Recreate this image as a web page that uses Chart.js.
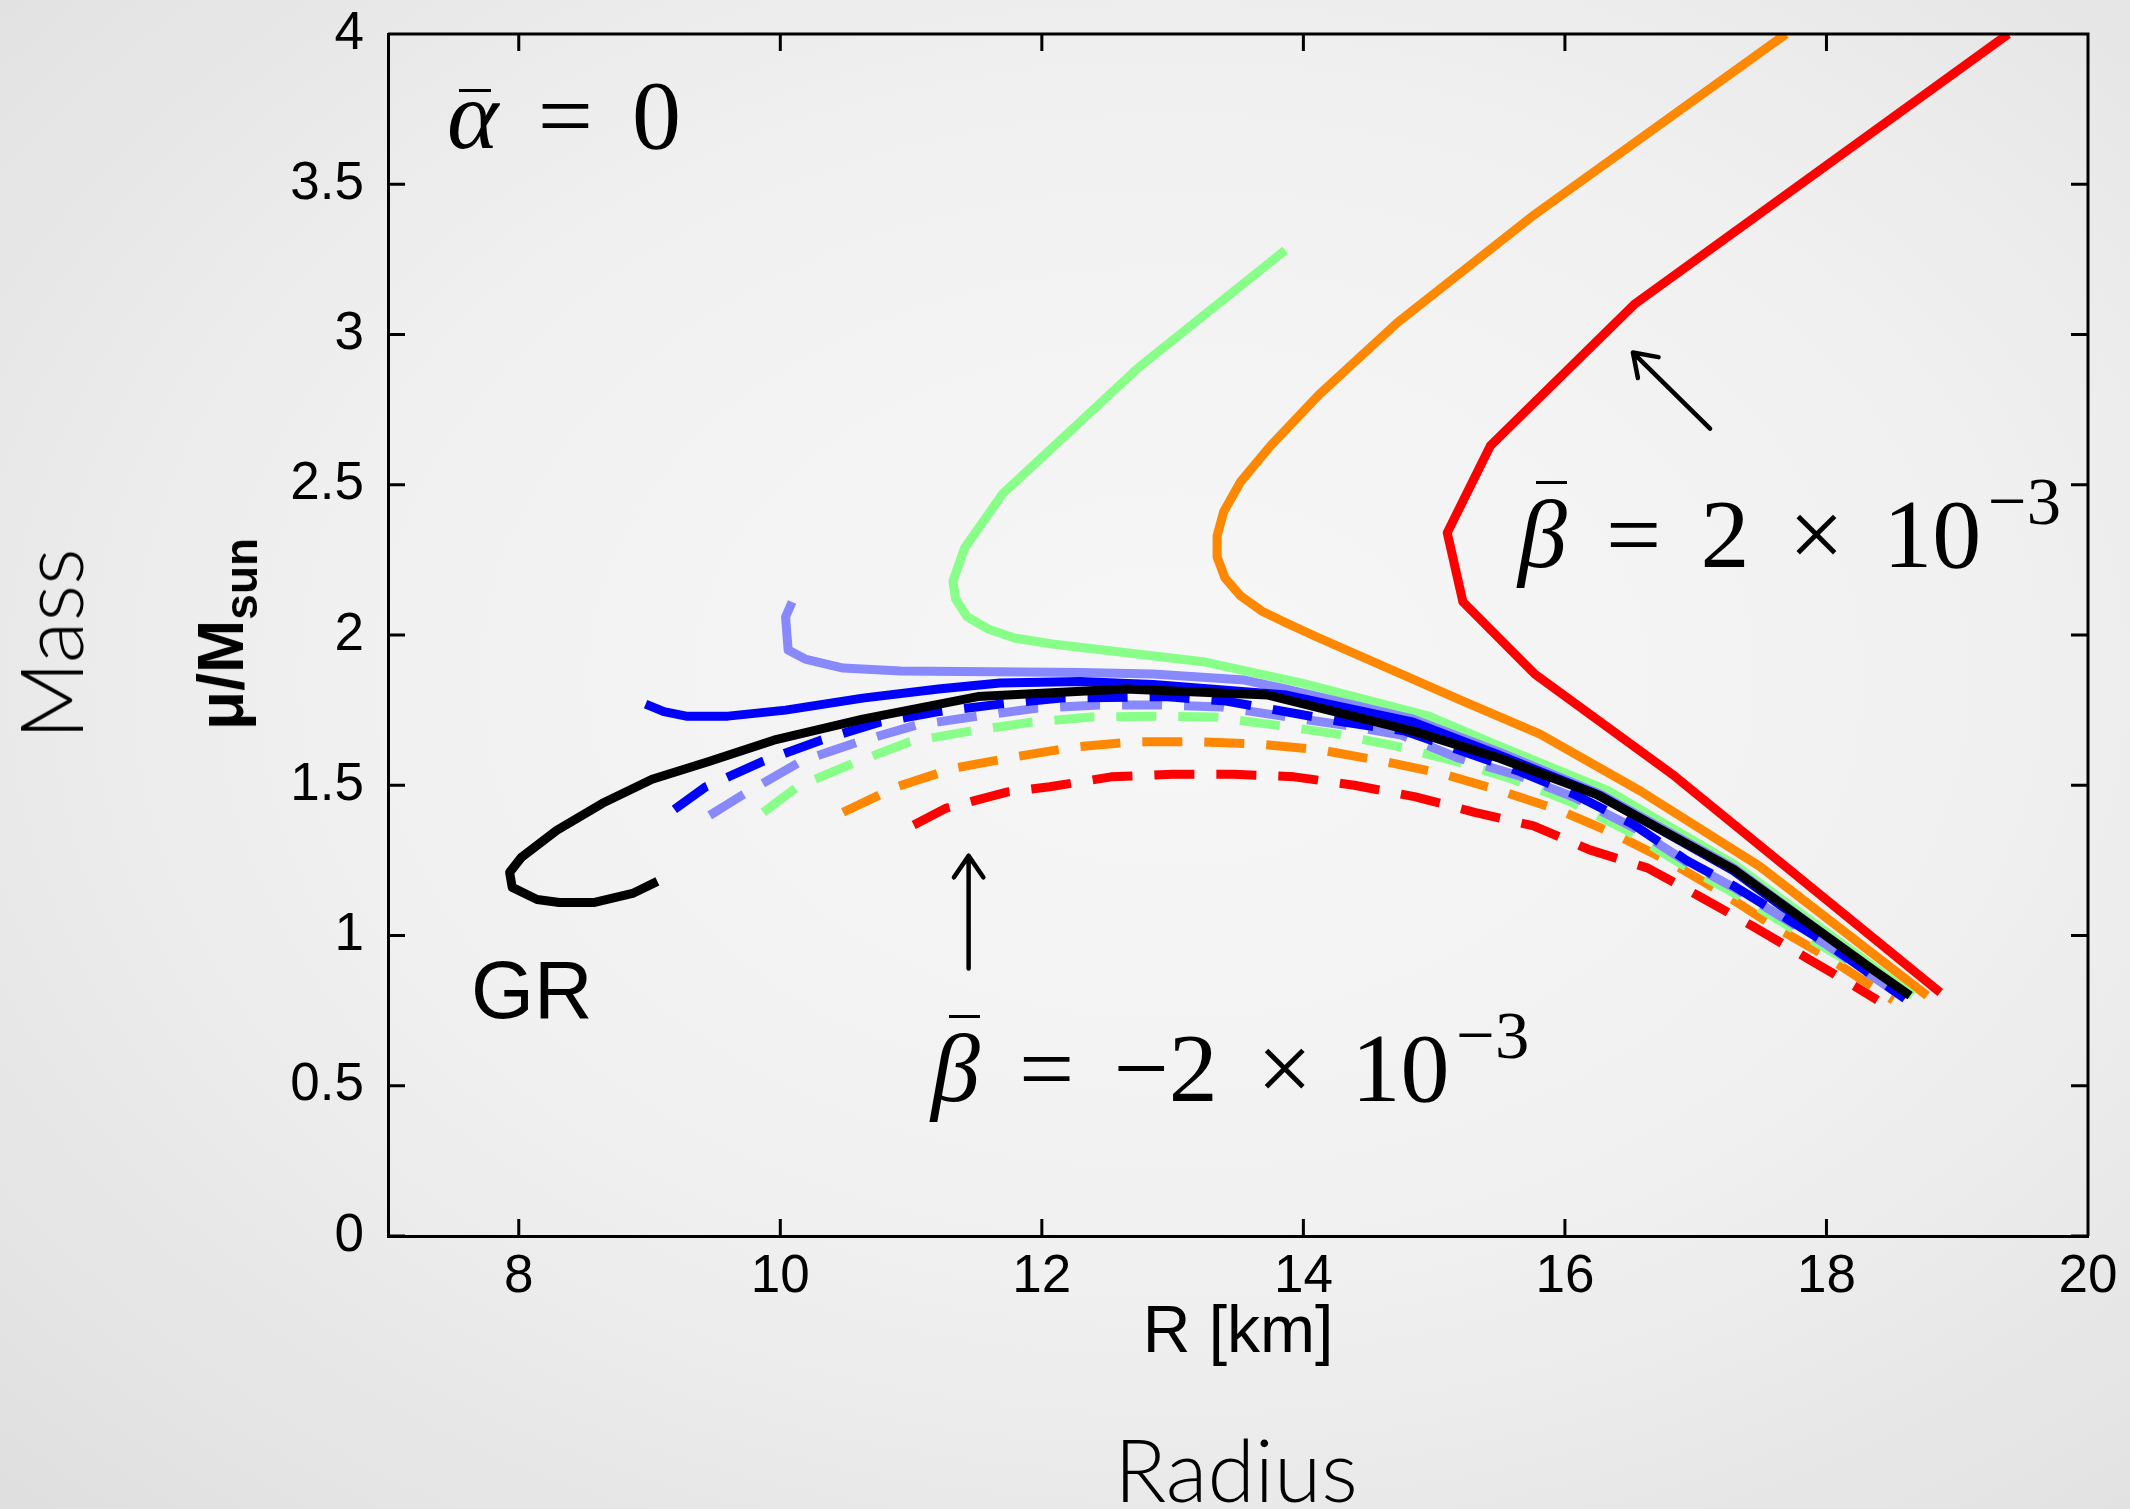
<!DOCTYPE html>
<html>
<head>
<meta charset="utf-8">
<title>Mass - Radius</title>
<script src="https://cdn.jsdelivr.net/npm/chart.js@4.4.0/dist/chart.umd.min.js"></script>
<style>
  html, body { margin: 0; padding: 0; }
  body {
    width: 2130px; height: 1509px; position: relative; overflow: hidden;
    background: radial-gradient(ellipse 80% 80% at 55% 45%, #f7f7f7 0%, #f0f0f0 50%, #dedede 100%);
  }
  #chart { position: absolute; left: 0; top: 0; }
  .lbl { position: absolute; line-height: 1; white-space: nowrap; color: #000; }
  .math { font-family: "Liberation Serif", "DejaVu Serif", serif; font-size: 98px; }
  .math i { font-style: italic; }
  .bar { position: relative; display: inline-block; }
  .bar::after { content: ''; position: absolute; border-top: 3px solid #000; }
  .bar.a::after { left: 0.12em; right: 0.08em; top: 0.23em; }
  .bar.b::after { left: 0.18em; right: 0; top: -0.04em; }
  .op { margin: 0 0.4em; }
  .sup { font-size: 0.7em; position: relative; top: -0.62em; margin-left: 0.1em; }
  .sans { font-family: "Liberation Sans", Arial, sans-serif; }
  .thin { font-family: Lato, Roboto, "Open Sans", sans-serif; font-weight: 300; font-size: 86px; color: #000; }
</style>
</head>
<body>
<canvas id="chart" width="2130" height="1509"></canvas>

<div class="lbl math" style="left:447px; top:66px;"><i class="bar a">α</i><span class="op">=</span>0</div>
<div class="lbl math" style="left:1518px; top:485px;"><i class="bar b">β</i><span class="op">=</span>2<span class="op">×</span>10<span class="sup">−3</span></div>
<div class="lbl math" style="left:931px; top:1019px;"><i class="bar b">β</i><span class="op">=</span>−2<span class="op">×</span>10<span class="sup">−3</span></div>
<div class="lbl sans" style="left:471px; top:950px; font-size:81px;">GR</div>

<div class="lbl sans" style="left:221px; top:634px; font-size:64px; font-weight:bold; transform:translate(-50%,-50%) rotate(-90deg);">μ/M<span style="font-size:0.72em; position:relative; top:0.3em;">sun</span></div>
<div class="lbl thin" style="left:50px; top:644px; transform:translate(-50%,-50%) rotate(-90deg);">Mass</div>
<div class="lbl thin" style="left:1236px; top:1426px; transform:translateX(-50%);">Radius</div>

<script>
'use strict';

// axis ticks
const xTicks = [8, 10, 12, 14, 16, 18, 20];
const yTicks = [0, 0.5, 1, 1.5, 2, 2.5, 3, 3.5, 4];

// GR (black)
const grR = [9.06, 8.87, 8.58, 8.31, 8.14, 7.95, 7.93, 8.02, 8.29, 8.64, 9.02, 9.46, 9.95, 10.63, 11.51, 12.64, 13.73, 14.84, 15.50, 16.24, 17.29, 18.36, 18.64];
const grM = [1.18, 1.14, 1.11, 1.11, 1.12, 1.16, 1.21, 1.26, 1.35, 1.44, 1.52, 1.58, 1.65, 1.72, 1.795, 1.82, 1.80, 1.68, 1.59, 1.47, 1.22, 0.885, 0.80];

// positive beta, solid lines
const blueR = [8.97, 9.11, 9.28, 9.60, 10.04, 10.63, 11.21, 11.68, 12.29, 12.85, 13.87, 14.84, 15.50, 16.27, 17.29, 18.60];
const blueM = [1.77, 1.745, 1.73, 1.73, 1.75, 1.79, 1.82, 1.84, 1.845, 1.835, 1.80, 1.71, 1.60, 1.465, 1.215, 0.795];

const lblueR = [10.09, 10.04, 10.06, 10.19, 10.48, 10.92, 12.30, 12.85, 13.55, 13.87, 14.84, 15.50, 16.27, 17.29, 18.62];
const lblueM = [2.11, 2.06, 1.95, 1.92, 1.89, 1.88, 1.875, 1.87, 1.85, 1.82, 1.72, 1.61, 1.47, 1.225, 0.80];

const greenR = [13.86, 12.74, 11.70, 11.41, 11.32, 11.34, 11.43, 11.59, 11.79, 12.08, 13.25, 13.99, 14.96, 15.50, 16.34, 17.30, 18.66];
const greenM = [3.28, 2.89, 2.47, 2.29, 2.18, 2.12, 2.06, 2.02, 1.99, 1.97, 1.91, 1.84, 1.73, 1.63, 1.48, 1.235, 0.80];

const orangeR = [17.69, 15.77, 14.72, 14.12, 13.75, 13.52, 13.39, 13.34, 13.34, 13.40, 13.52, 13.68, 13.87, 14.12, 15.22, 15.81, 16.58, 17.49, 18.77];
const orangeM = [4.00, 3.40, 3.04, 2.80, 2.63, 2.51, 2.41, 2.33, 2.26, 2.19, 2.13, 2.08, 2.04, 1.99, 1.78, 1.67, 1.48, 1.23, 0.80];

const redR = [19.39, 16.53, 15.43, 15.10, 15.22, 15.77, 16.84, 18.87];
const redM = [4.00, 3.10, 2.63, 2.34, 2.11, 1.87, 1.53, 0.81];

// negative beta, dashed lines
const blueDashR = [9.19, 9.43, 9.87, 10.31, 10.76, 11.21, 11.68, 12.15, 12.94, 13.41, 14.31, 14.78, 15.66, 16.07, 16.52, 16.93, 17.29, 18.0, 18.6];
const blueDashM = [1.42, 1.495, 1.58, 1.65, 1.71, 1.745, 1.77, 1.79, 1.795, 1.78, 1.71, 1.68, 1.545, 1.47, 1.37, 1.25, 1.165, 0.975, 0.79];

const lblueDashR = [9.46, 9.72, 10.16, 10.60, 11.04, 11.51, 11.97, 12.44, 12.91, 13.38, 13.84, 14.31, 14.75, 15.19, 15.66, 16.07, 16.52, 16.93, 17.29, 18.0, 18.6];
const lblueDashM = [1.40, 1.47, 1.58, 1.645, 1.70, 1.73, 1.757, 1.767, 1.767, 1.76, 1.73, 1.70, 1.667, 1.59, 1.53, 1.46, 1.36, 1.245, 1.16, 0.97, 0.79];

const greenDashR = [9.87, 10.13, 10.54, 10.99, 11.45, 11.92, 12.38, 12.85, 13.32, 13.79, 14.26, 14.71, 15.16, 15.60, 16.04, 16.47, 16.88, 17.34, 17.75, 18.18, 18.62];
const greenDashM = [1.41, 1.495, 1.57, 1.645, 1.68, 1.71, 1.727, 1.73, 1.727, 1.70, 1.67, 1.63, 1.58, 1.52, 1.445, 1.35, 1.24, 1.13, 1.02, 0.91, 0.80];

const orangeDashR = [10.48, 10.89, 11.33, 11.80, 12.26, 12.73, 13.20, 13.67, 14.14, 14.61, 15.05, 15.49, 15.94, 16.37, 16.78, 17.21, 17.62, 18.0, 18.51];
const orangeDashM = [1.41, 1.495, 1.557, 1.595, 1.628, 1.645, 1.645, 1.637, 1.617, 1.58, 1.54, 1.484, 1.42, 1.34, 1.25, 1.14, 1.025, 0.93, 0.785];

const redDashR = [11.02, 11.27, 11.74, 12.06, 12.53, 13.0, 13.47, 13.93, 14.39, 14.85, 15.31, 15.76, 16.19, 16.63, 17.03, 17.44, 17.85, 18.24, 18.39];
const redDashM = [1.368, 1.424, 1.478, 1.495, 1.528, 1.537, 1.537, 1.528, 1.50, 1.462, 1.41, 1.365, 1.285, 1.225, 1.13, 1.03, 0.925, 0.825, 0.785];

// arrow annotations (data units): tail -> head
const arrows = [
  { from: [17.11, 2.687], to: [16.52, 2.94] },
  { from: [11.44, 0.89], to: [11.44, 1.265] }
];

const TICK = 17;

// build one line dataset from the R and M arrays
function curve(label, rs, ms, color, dashed) {
  return {
    label: label,
    data: rs.map((r, i) => ({ x: r, y: ms[i] })),
    showLine: true,
    borderColor: color,
    backgroundColor: color,
    borderWidth: 9,
    pointRadius: 0,
    pointHoverRadius: 0,
    borderDash: dashed ? [40, 22] : [],
    borderCapStyle: 'butt',
    borderJoinStyle: 'round',
    tension: 0,
    fill: false
  };
}

// inner ticks on all four sides, top/right frame, arrows
const frameTicks = {
  id: 'frameTicks',
  afterDraw(chart) {
    const ctx = chart.ctx;
    const a = chart.chartArea;
    const x = chart.scales.x;
    const y = chart.scales.y;
    ctx.save();
    ctx.strokeStyle = '#000';
    ctx.lineWidth = 3;
    ctx.beginPath();
    ctx.moveTo(a.left, a.top);
    ctx.lineTo(a.right, a.top);
    ctx.lineTo(a.right, a.bottom);
    for (const v of xTicks) {
      const px = x.getPixelForValue(v);
      ctx.moveTo(px, a.bottom); ctx.lineTo(px, a.bottom - TICK);
      ctx.moveTo(px, a.top); ctx.lineTo(px, a.top + TICK);
    }
    for (const v of yTicks) {
      const py = y.getPixelForValue(v);
      ctx.moveTo(a.left, py); ctx.lineTo(a.left + TICK, py);
      ctx.moveTo(a.right, py); ctx.lineTo(a.right - TICK, py);
    }
    ctx.stroke();

    ctx.lineWidth = 4.5;
    ctx.lineCap = 'round';
    for (const ar of arrows) {
      const x0 = x.getPixelForValue(ar.from[0]);
      const y0 = y.getPixelForValue(ar.from[1]);
      const x1 = x.getPixelForValue(ar.to[0]);
      const y1 = y.getPixelForValue(ar.to[1]);
      const ang = Math.atan2(y0 - y1, x0 - x1);
      ctx.beginPath();
      ctx.moveTo(x0, y0);
      ctx.lineTo(x1, y1);
      for (const s of [-1, 1]) {
        const w = ang + s * 0.6;
        ctx.moveTo(x1, y1);
        ctx.lineTo(x1 + 26 * Math.cos(w), y1 + 26 * Math.sin(w));
      }
      ctx.stroke();
    }
    ctx.restore();
  }
};

// no extra room for half tick labels, the layout padding sets the plot box
function noPad(s) {
  s.paddingTop = 0;
  s.paddingBottom = 0;
  s.paddingLeft = 0;
  s.paddingRight = 0;
}

Chart.defaults.font.family = '"Liberation Sans", Arial, sans-serif';
Chart.defaults.color = '#000';

new Chart(document.getElementById('chart'), {
  type: 'scatter',
  data: {
    datasets: [
      curve('GR', grR, grM, '#000000', false),
      curve('blue dashed', blueDashR, blueDashM, '#0000ff', true),
      curve('light blue dashed', lblueDashR, lblueDashM, '#8888ff', true),
      curve('green dashed', greenDashR, greenDashM, '#88ff88', true),
      curve('orange dashed', orangeDashR, orangeDashM, '#ff8800', true),
      curve('red dashed', redDashR, redDashM, '#ff0000', true),
      curve('blue', blueR, blueM, '#0000ff', false),
      curve('light blue', lblueR, lblueM, '#8888ff', false),
      curve('green', greenR, greenM, '#88ff88', false),
      curve('orange', orangeR, orangeM, '#ff8800', false),
      curve('red', redR, redM, '#ff0000', false)
    ]
  },
  options: {
    responsive: false,
    animation: false,
    devicePixelRatio: 1,
    layout: { padding: { left: 0, top: 34, right: 42, bottom: 0 } },
    plugins: {
      legend: { display: false },
      tooltip: { enabled: false }
    },
    scales: {
      x: {
        type: 'linear',
        min: 7,
        max: 20,
        afterBuildTicks: (s) => { s.ticks = xTicks.map(v => ({ value: v })); },
        afterFit: (s) => { s.height = 273; noPad(s); },
        grid: { display: false, drawTicks: false },
        border: { display: true, color: '#000', width: 3 },
        ticks: { color: '#000', font: { size: 53 }, padding: 10, maxRotation: 0, autoSkip: false, callback: (v) => String(v) },
        title: { display: true, text: 'R [km]', color: '#000', font: { size: 66 }, padding: { top: 0, bottom: 136 } }
      },
      y: {
        type: 'linear',
        min: 0,
        max: 4,
        afterBuildTicks: (s) => { s.ticks = yTicks.map(v => ({ value: v })); },
        afterFit: (s) => { s.width = 388; noPad(s); },
        grid: { display: false, drawTicks: false },
        border: { display: true, color: '#000', width: 3 },
        ticks: { color: '#000', font: { size: 53 }, padding: 24, autoSkip: false, callback: (v) => String(v) }
      }
    }
  },
  plugins: [frameTicks]
});
</script>
</body>
</html>
